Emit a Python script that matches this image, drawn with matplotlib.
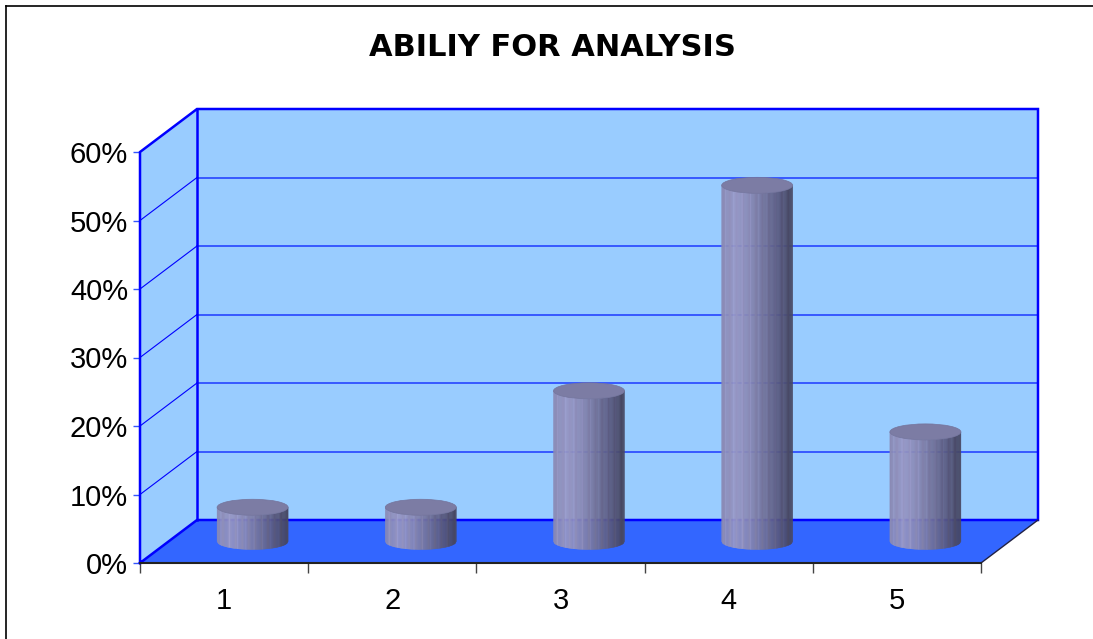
import numpy as np
import matplotlib
matplotlib.use("Agg")
import matplotlib.pyplot as plt
from matplotlib.patches import Polygon, Ellipse
from matplotlib.colors import LinearSegmentedColormap
from matplotlib.ticker import FuncFormatter
from matplotlib.lines import Line2D

# data
categories = ["1", "2", "3", "4", "5"]
values = [5, 5, 22, 52, 16]          # percent
y_ticks = [0, 10, 20, 30, 40, 50, 60]
title = "ABILIY FOR ANALYSIS"

W, H = 1093, 639
fig = plt.figure(figsize=(W / 100, H / 100), dpi=100)
fig.patch.set_facecolor("white")

# front plane of the 3d box
ax = fig.add_axes([140 / W, 76 / H, 841 / W, 411 / H])
ax.set_xlim(0.5, len(categories) + 0.5)
ax.set_ylim(0, 60)
ax.patch.set_visible(False)

# depth of the box in data units (57 px right, 43 px up)
DX = 57 / (841 / len(categories))
DY = 43 / (411 / 60)


def proj(x, y, d):
    # oblique projection: d=0 front, d=1 back
    return (x + d * DX, y + d * DY)


x0, x1 = 0.5, len(categories) + 0.5
ymax = y_ticks[-1]
wall_c = "#99ccff"
edge_c = "#0000ff"

# back wall
back = Polygon([proj(x0, 0, 1), proj(x1, 0, 1), proj(x1, ymax, 1), proj(x0, ymax, 1)],
               closed=True, fc=wall_c, ec="none", zorder=1, clip_on=False)
ax.add_patch(back)
# left wall
left = Polygon([proj(x0, 0, 0), proj(x0, 0, 1), proj(x0, ymax, 1), proj(x0, ymax, 0)],
               closed=True, fc=wall_c, ec="none", zorder=1, clip_on=False)
ax.add_patch(left)
# floor
floor = Polygon([proj(x0, 0, 0), proj(x1, 0, 0), proj(x1, 0, 1), proj(x0, 0, 1)],
                closed=True, fc="#3366ff", ec="none", zorder=1, clip_on=False)
ax.add_patch(floor)

# gridlines on the walls
for g in y_ticks[1:-1]:
    p0, p1, p2 = proj(x0, g, 0), proj(x0, g, 1), proj(x1, g, 1)
    ax.add_line(Line2D([p1[0], p2[0]], [p1[1], p2[1]], color="#2f4fff", lw=1.3,
                       zorder=2, clip_on=False))
    ax.add_line(Line2D([p0[0], p1[0]], [p0[1], p1[1]], color=edge_c, lw=0.8,
                       zorder=2, clip_on=False))

# wall outlines
outline = [proj(x0, 0, 0), proj(x0, ymax, 0), proj(x0, ymax, 1), proj(x1, ymax, 1),
           proj(x1, 0, 1), proj(x0, 0, 1), proj(x0, 0, 0)]
ax.add_line(Line2D([p[0] for p in outline], [p[1] for p in outline], color=edge_c,
                   lw=1.8, zorder=3, clip_on=False, solid_joinstyle="miter"))
ax.add_line(Line2D([proj(x0, 0, 1)[0], proj(x0, ymax, 1)[0]],
                   [proj(x0, 0, 1)[1], proj(x0, ymax, 1)[1]], color=edge_c,
                   lw=1.8, zorder=3, clip_on=False))
# floor right edge
fr = [proj(x1, 0, 0), proj(x1, 0, 1)]
ax.add_line(Line2D([fr[0][0], fr[1][0]], [fr[0][1], fr[1][1]], color="#222244",
                   lw=1.0, zorder=3, clip_on=False))

# cylinders
cyl_cmap = LinearSegmentedColormap.from_list(
    "cyl", ["#8a8ab4", "#9696c4", "#8888b4", "#72729a", "#5a5a80", "#44445e"])
cw = 71 / (841 / len(categories))    # cylinder width
eh = 16 / (411 / 60)                 # ellipse height
n_strips = 60
for i, v in enumerate(values):
    cx, cy0 = proj(i + 1, 0, 0.5)
    top = cy0 + v
    edges = np.linspace(-1, 1, n_strips + 1)
    for k in range(n_strips):
        ua, ub = edges[k], edges[k + 1]
        xa, xb = cx + ua * cw / 2, cx + ub * cw / 2
        ya = -eh / 2 * np.sqrt(max(0, 1 - ua ** 2))
        yb = -eh / 2 * np.sqrt(max(0, 1 - ub ** 2))
        t = (k + 0.5) / n_strips
        shade = cyl_cmap(t)
        if k % 7 == 3:
            shade = tuple(min(1, c * 1.06) for c in shade[:3])
        strip = Polygon([(xa, cy0 + ya), (xb, cy0 + yb), (xb, top + yb), (xa, top + ya)],
                        closed=True, fc=shade, ec=shade, lw=0.3, zorder=4, clip_on=False)
        ax.add_patch(strip)
    cap = Ellipse((cx, top), cw, eh, fc="#7c7ca4", ec="#74749c", lw=0.5, zorder=5,
                  clip_on=False)
    ax.add_patch(cap)

# axes / ticks
for s in ["top", "right"]:
    ax.spines[s].set_visible(False)
ax.spines["left"].set_visible(False)
ax.spines["bottom"].set_color("#222222")
ax.spines["bottom"].set_linewidth(1.5)
ax.spines["bottom"].set_zorder(6)

ax.set_yticks(y_ticks)
ax.yaxis.set_major_formatter(FuncFormatter(lambda v, p: f"{v:.0f}%"))
ax.tick_params(axis="y", direction="out", length=5, width=1, color="#3355ff",
               pad=3.5, labelsize=21)
ax.set_xticks(np.arange(len(categories) + 1) + 0.5)
ax.set_xticklabels([])
ax.set_xticks(np.arange(1, len(categories) + 1), minor=True)
ax.set_xticklabels(categories, minor=True)
ax.tick_params(axis="x", which="major", direction="out", length=7, width=1,
               color="#444444")
ax.tick_params(axis="x", which="minor", length=0, pad=17, labelsize=21)
for lab in ax.get_xticklabels(minor=True) + ax.get_yticklabels():
    lab.set_fontfamily("Liberation Sans")

fig.text(552 / W, 1 - 47 / H, title, ha="center", va="center", fontsize=22,
         fontweight="bold", family="DejaVu Sans")

# chart area border
fig.add_artist(Line2D([6 / W, 6 / W], [0, 1 - 6 / H], color="black", lw=1.2))
fig.add_artist(Line2D([6 / W, 1], [1 - 6 / H, 1 - 6 / H], color="black", lw=1.2))

fig.savefig("out.png", dpi=100)
